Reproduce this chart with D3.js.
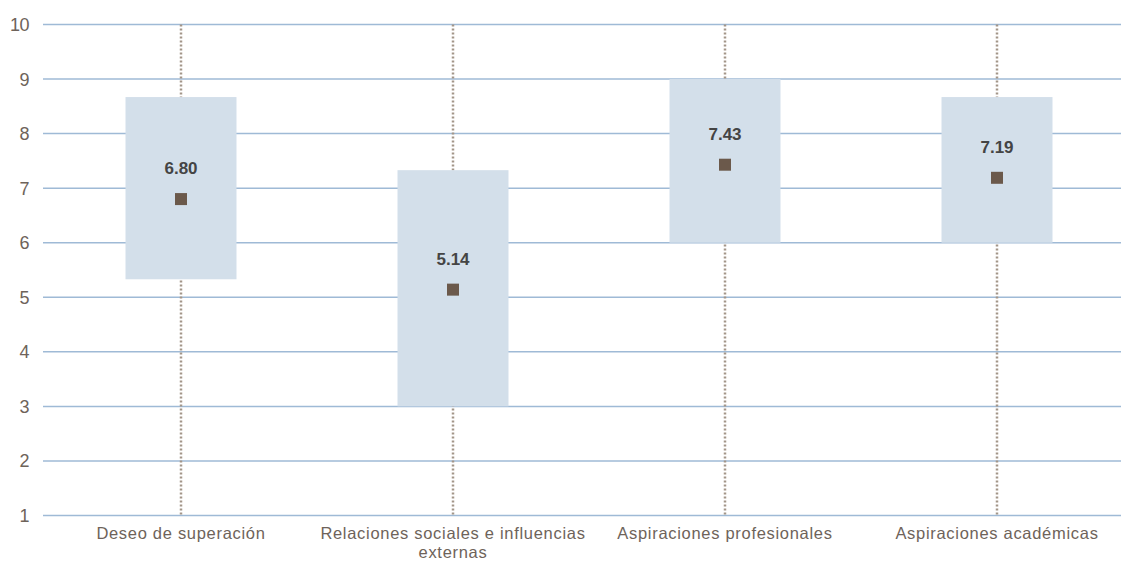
<!DOCTYPE html>
<html><head><meta charset="utf-8">
<script src="https://cdn.jsdelivr.net/npm/d3@7"></script>
<style>body{margin:0;background:#fff}svg{display:block}</style>
</head><body>
<svg id="c" width="1121" height="561"></svg>
<script>
const categories = ["Deseo de superación","Relaciones sociales e influencias externas","Aspiraciones profesionales","Aspiraciones académicas"];
const labelLines = [["Deseo de superación"],["Relaciones sociales e influencias","externas"],["Aspiraciones profesionales"],["Aspiraciones académicas"]];
const minVals = [1,1,1,1];
const maxVals = [10,10,10,10];
const q1Vals = [5.33,3,6,6];
const q3Vals = [8.67,7.33,9,8.67];
const meanVals = [6.80,5.14,7.43,7.19];
const yTicks = [1,2,3,4,5,6,7,8,9,10];

const svg = d3.select("#c");
const y = d3.scaleLinear().domain([1,10]).range([515.5,24.5]);
const x = d3.scaleBand().domain(categories).range([45,1133]).padding(0);
const boxW = x.bandwidth()*0.408;
const cx = c => x(c)+x.bandwidth()/2;
const font = "'Liberation Sans', Arial, sans-serif";

// grid
svg.append("g").selectAll("line").data(yTicks).join("line")
 .attr("x1",43).attr("x2",1121).attr("y1",d=>y(d)).attr("y2",d=>y(d))
 .attr("stroke","#9fbad6").attr("stroke-width",1.5);
// y labels
svg.append("g").selectAll("text").data(yTicks).join("text")
 .attr("x",29).attr("y",d=>y(d)).attr("dy","0.36em").attr("text-anchor","end")
 .attr("font-family",font).attr("font-size",18).attr("letter-spacing","-0.5").attr("fill","#6e635a").text(d=>d);

const data = categories.map((c,i)=>({c,i,min:minVals[i],max:maxVals[i],q1:q1Vals[i],q3:q3Vals[i],mean:meanVals[i]}));
// whiskers
svg.append("g").selectAll("line").data(data).join("line")
 .attr("x1",d=>cx(d.c)).attr("x2",d=>cx(d.c)).attr("y1",d=>y(d.max)).attr("y2",d=>y(d.min))
 .attr("stroke","#a39689").attr("stroke-width",2.5).attr("stroke-dasharray","2,2");
// boxes
svg.append("g").selectAll("rect").data(data).join("rect")
 .attr("x",d=>cx(d.c)-boxW/2).attr("width",boxW)
 .attr("y",d=>y(d.q3)).attr("height",d=>y(d.q1)-y(d.q3))
 .attr("fill","#d3dfea");
// mean markers
svg.append("g").selectAll("rect").data(data).join("rect")
 .attr("x",d=>cx(d.c)-6).attr("y",d=>y(d.mean)-6).attr("width",12).attr("height",12)
 .attr("fill","#6b594b");
// mean labels
svg.append("g").selectAll("text").data(data).join("text")
 .attr("x",d=>cx(d.c)).attr("y",d=>y(d.mean)-25).attr("text-anchor","middle")
 .attr("font-family",font).attr("font-size",17).attr("font-weight","bold").attr("fill","#444")
 .text(d=>d.mean.toFixed(2));
// x labels
const xl = svg.append("g").selectAll("text").data(data).join("text")
 .attr("x",d=>cx(d.c)).attr("y",539).attr("text-anchor","middle")
 .attr("font-family",font).attr("font-size",16.5).attr("letter-spacing","0.7").attr("fill","#6e635a");
xl.each(function(d){
  const t=d3.select(this);
  labelLines[d.i].forEach((l,k)=>t.append("tspan").attr("x",cx(d.c)).attr("dy",k?18.5:0).text(l));
});
</script>
</body></html>
